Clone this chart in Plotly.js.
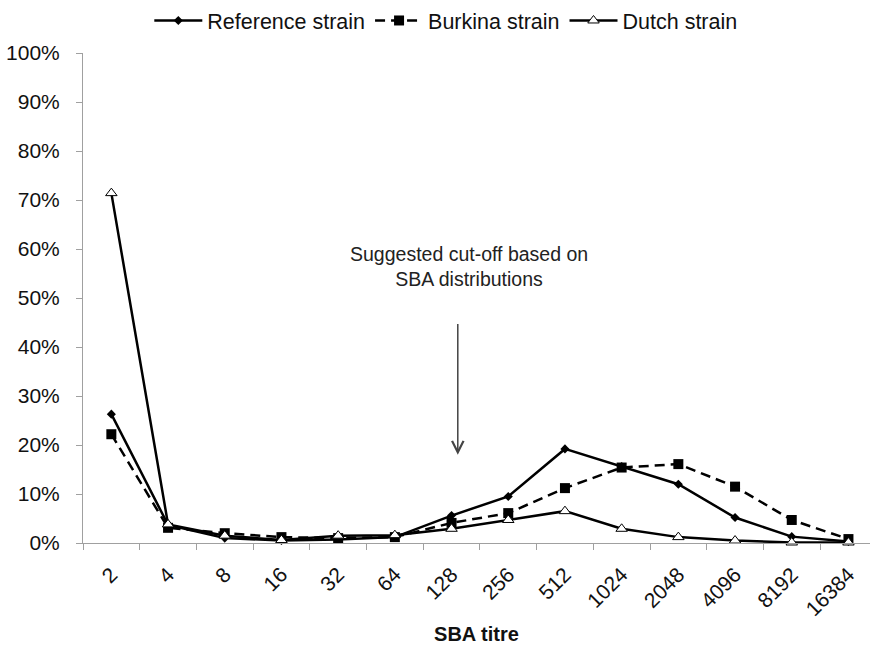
<!DOCTYPE html>
<html>
<head>
<meta charset="utf-8">
<script src="https://cdn.plot.ly/plotly-3.0.1.min.js"></script>
<style>html,body{margin:0;padding:0;background:#fff;}#chart{width:870px;height:645px;}</style>
</head>
<body>
<div id="chart"></div>
<script>
var categories = ["2","4","8","16","32","64","128","256","512","1024","2048","4096","8192","16384"];
var referenceStrain = [0.263, 0.037, 0.010, 0.005, 0.007, 0.012, 0.056, 0.095, 0.192, 0.156, 0.120, 0.052, 0.013, 0.003];
var burkinaStrain   = [0.222, 0.031, 0.020, 0.012, 0.010, 0.012, 0.041, 0.061, 0.112, 0.154, 0.161, 0.115, 0.047, 0.008];
var dutchStrain     = [0.714, 0.038, 0.015, 0.006, 0.015, 0.016, 0.029, 0.047, 0.065, 0.029, 0.012, 0.005, 0.001, 0.001];
var yTickVals = [0,0.1,0.2,0.3,0.4,0.5,0.6,0.7,0.8,0.9,1.0];
var yTickText = ["0%","10%","20%","30%","40%","50%","60%","70%","80%","90%","100%"];

var font = "Liberation Sans, Arial, sans-serif";
var traces = [
  {x: categories, y: referenceStrain, name: "Reference strain", type: "scatter", mode: "lines+markers",
   cliponaxis: false,
   line: {color: "#000", width: 2.5},
   marker: {symbol: "diamond", size: 7, color: "#000"}},
  {x: categories, y: burkinaStrain, name: "Burkina strain", type: "scatter", mode: "lines+markers",
   cliponaxis: false,
   line: {color: "#000", width: 2.5, dash: "10px,6px"},
   marker: {symbol: "square", size: 10, color: "#000"}},
  {x: categories, y: dutchStrain, name: "Dutch strain", type: "scatter", mode: "lines+markers",
   cliponaxis: false,
   line: {color: "#000", width: 2.5},
   marker: {symbol: "triangle-up", size: 10, color: "#fff", line: {color: "#000", width: 1}}}
];

var layout = {
  width: 870, height: 645,
  margin: {l: 83, r: 0, t: 53, b: 102},
  paper_bgcolor: "#fff", plot_bgcolor: "#fff",
  font: {family: font, size: 21, color: "#111"},
  showlegend: true,
  legend: {orientation: "h", x: 0.461, xanchor: "center", yref: "container", y: 1.0, yanchor: "top",
           font: {size: 21.5}, itemwidth: 48, tracegroupgap: 0},
  xaxis: {
    type: "category", range: [-0.5, 13.38],
    showline: true, linecolor: "#a0a0a0", linewidth: 1,
    ticks: "outside", tickson: "boundaries", ticklen: 6, tickcolor: "#a0a0a0",
    tickangle: -45, ticklabelstandoff: 10, showgrid: false, zeroline: false,
    tickfont: {size: 21},
    title: {text: "<b>SBA titre</b>", font: {size: 20}, standoff: 12}
  },
  yaxis: {
    range: [0, 1], tickvals: yTickVals, ticktext: yTickText,
    showline: true, linecolor: "#a0a0a0", linewidth: 1,
    ticks: "outside", ticklen: 6, tickcolor: "#a0a0a0", ticklabelstandoff: 12,
    showgrid: false, zeroline: false, tickfont: {size: 21}
  },
  annotations: [
    {x: 6.11, y: 0.18, xref: "x", yref: "y", ax: 6.11, ay: 0.45, axref: "x", ayref: "y",
     showarrow: true, arrowhead: 5, arrowsize: 1.5, arrowwidth: 1.5, arrowcolor: "#444", text: ""},
    {x: 6.3, y: 0.565, xref: "x", yref: "y", showarrow: false,
     text: "Suggested cut-off based on<br>SBA distributions", font: {size: 19.5, color: "#222"}, align: "center"}
  ]
};

Plotly.newPlot("chart", traces, layout, {displayModeBar: false, staticPlot: true});
</script>
</body>
</html>
